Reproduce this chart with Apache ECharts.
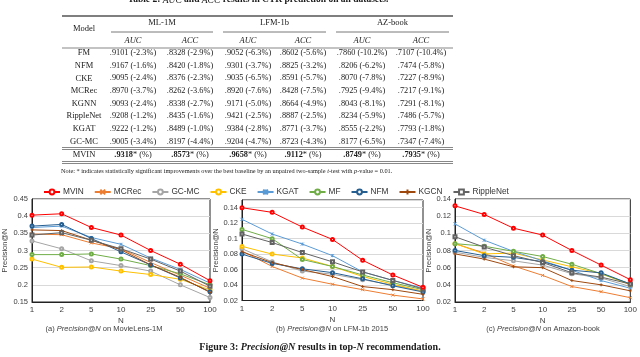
<!DOCTYPE html>
<html>
<head>
<meta charset="utf-8">
<script src="https://cdn.jsdelivr.net/npm/echarts@6/dist/echarts.min.js"></script>
<style>
  html, body { margin: 0; padding: 0; background: #fff; }
  #main { width: 640px; height: 357px; }
</style>
</head>
<body>
<div id="main"></div>
<script>
// ---- table data ----
const tableModels = ["FM", "NFM", "CKE", "MCRec", "KGNN", "RippleNet", "KGAT", "GC-MC"];
const mlAuc = [".9101 (-2.3%)", ".9167 (-1.6%)", ".9095 (-2.4%)", ".8970 (-3.7%)", ".9093 (-2.4%)", ".9208 (-1.2%)", ".9222 (-1.2%)", ".9005 (-3.4%)"];
const mlAcc = [".8328 (-2.9%)", ".8420 (-1.8%)", ".8376 (-2.3%)", ".8262 (-3.6%)", ".8338 (-2.7%)", ".8435 (-1.6%)", ".8489 (-1.0%)", ".8197 (-4.4%)"];
const lfmAuc = [".9052 (-6.3%)", ".9301 (-3.7%)", ".9035 (-6.5%)", ".8920 (-7.6%)", ".9171 (-5.0%)", ".9421 (-2.5%)", ".9384 (-2.8%)", ".9204 (-4.7%)"];
const lfmAcc = [".8602 (-5.6%)", ".8825 (-3.2%)", ".8591 (-5.7%)", ".8428 (-7.5%)", ".8664 (-4.9%)", ".8887 (-2.5%)", ".8771 (-3.7%)", ".8723 (-4.3%)"];
const azAuc = [".7860 (-10.2%)", ".8206 (-6.2%)", ".8070 (-7.8%)", ".7925 (-9.4%)", ".8043 (-8.1%)", ".8234 (-5.9%)", ".8555 (-2.2%)", ".8177 (-6.5%)"];
const azAcc = [".7107 (-10.4%)", ".7474 (-5.8%)", ".7227 (-8.9%)", ".7217 (-9.1%)", ".7291 (-8.1%)", ".7486 (-5.7%)", ".7793 (-1.8%)", ".7347 (-7.4%)"];
const mvinRow = [".9318", ".8573", ".9658", ".9112", ".8749", ".7935"];

// ---- chart data ----
const nLabels = ["1", "2", "5", "10", "25", "50", "100"];
const models = ["MVIN", "MCRec", "GC-MC", "CKE", "KGAT", "MF", "NFM", "KGCN", "RippleNet"];
const colors = ["#FF0000", "#ED7D31", "#A5A5A5", "#FFC000", "#5B9BD5", "#70AD47", "#255E91", "#9E480E", "#636363"];

// values in the order of `models`
const movielens = [
  [0.403, 0.407, 0.367, 0.345, 0.300, 0.260, 0.212],
  [0.348, 0.346, 0.322, 0.305, 0.265, 0.228, 0.190],
  [0.328, 0.305, 0.270, 0.256, 0.240, 0.200, 0.163],
  [0.275, 0.251, 0.252, 0.240, 0.230, 0.216, 0.185],
  [0.367, 0.371, 0.338, 0.318, 0.278, 0.245, 0.205],
  [0.288, 0.288, 0.290, 0.275, 0.256, 0.232, 0.200],
  [0.371, 0.376, 0.335, 0.296, 0.258, 0.220, 0.180],
  [0.360, 0.358, 0.330, 0.302, 0.258, 0.222, 0.178],
  [0.345, 0.352, 0.330, 0.305, 0.275, 0.240, 0.196]
];
const lfm = [
  [0.140, 0.134, 0.115, 0.099, 0.072, 0.053, 0.037],
  [0.084, 0.064, 0.049, 0.041, 0.034, 0.027, 0.022],
  [0.087, 0.070, 0.058, 0.054, 0.047, 0.040, 0.032],
  [0.090, 0.080, 0.075, 0.064, 0.051, 0.041, 0.032],
  [0.125, 0.106, 0.093, 0.078, 0.057, 0.046, 0.036],
  [0.112, 0.100, 0.073, 0.064, 0.053, 0.043, 0.034],
  [0.080, 0.068, 0.061, 0.056, 0.048, 0.039, 0.031],
  [0.083, 0.069, 0.060, 0.051, 0.038, 0.034, 0.028],
  [0.106, 0.095, 0.082, 0.070, 0.057, 0.046, 0.035]
];
const amazon = [
  [0.132, 0.122, 0.106, 0.098, 0.080, 0.063, 0.046],
  [0.088, 0.077, 0.062, 0.051, 0.038, 0.032, 0.025],
  [0.078, 0.072, 0.068, 0.063, 0.053, 0.048, 0.038],
  [0.088, 0.076, 0.077, 0.069, 0.061, 0.053, 0.040],
  [0.111, 0.092, 0.079, 0.068, 0.057, 0.045, 0.036],
  [0.088, 0.085, 0.079, 0.073, 0.064, 0.053, 0.041],
  [0.080, 0.074, 0.072, 0.067, 0.057, 0.054, 0.041],
  [0.076, 0.070, 0.061, 0.060, 0.045, 0.040, 0.033],
  [0.096, 0.084, 0.074, 0.066, 0.054, 0.049, 0.041]
];

const symbols = [
  "emptyCircle",
  "path://M0,0L10,10M0,10L10,0",
  "emptyCircle",
  "emptyCircle",
  "path://M0,0L10,10M0,10L10,0M5,0L5,10",
  "emptyCircle",
  "emptyCircle",
  "path://M5,0L5,10M0,5L10,5",
  "emptyRect"
];

const serif = "Liberation Serif";
const sans = "Liberation Sans";

// ---- table graphics ----
const graphics = [];
function txt(x, y, text, size, extra) {
  graphics.push({
    type: "text", x: x, y: y, silent: true,
    style: Object.assign({
      text: text, fontFamily: serif, fontSize: size, fill: "#1a1a1a",
      textAlign: "center", textVerticalAlign: "middle"
    }, extra || {})
  });
}
function rule(x1, x2, y, w) {
  graphics.push({
    type: "line", silent: true,
    shape: { x1: x1, y1: y, x2: x2, y2: y },
    style: { stroke: "#555", lineWidth: w }
  });
}

txt(258, 0, "Table 2: {i|AUC} and {i|ACC} results in CTR prediction on all datasets.", 9.5, {
  fontWeight: "bold",
  rich: { i: { fontFamily: serif, fontSize: 9.5, fontStyle: "italic", fill: "#1a1a1a" } }
});
rule(62, 453, 16, 1.3);
txt(84, 29, "Model", 8.5);
const groupNames = ["ML-1M", "LFM-1b", "AZ-book"];
const groupX = [[111, 213], [223, 326], [336, 449]];
groupNames.forEach(function (g, i) {
  txt((groupX[i][0] + groupX[i][1]) / 2, 23, g, 8.5);
  rule(groupX[i][0], groupX[i][1], 32, 0.8);
});
const colX = [133, 190, 248, 303, 362, 421];
colX.forEach(function (x, i) {
  txt(x, 41, i % 2 === 0 ? "AUC" : "ACC", 8.5, { fontStyle: "italic" });
});
rule(62, 453, 48, 0.7);
const columns = [mlAuc, mlAcc, lfmAuc, lfmAcc, azAuc, azAcc];
tableModels.forEach(function (m, r) {
  const y = 53 + r * 12.65;
  txt(84, y, m, 8.5);
  columns.forEach(function (col, c) { txt(colX[c], y, col[r], 8.3); });
});
rule(62, 453, 147.5, 0.7);
rule(62, 453, 149.5, 0.7);
txt(84, 155, "MVIN", 8.5);
mvinRow.forEach(function (v, c) {
  txt(colX[c], 155, "{b|" + v + "}{n|* (%)}", 8.3, {
    rich: {
      b: { fontFamily: serif, fontSize: 8.3, fontWeight: "bold", fill: "#1a1a1a" },
      n: { fontFamily: serif, fontSize: 8.3, fill: "#1a1a1a" }
    }
  });
});
rule(62, 453, 161.5, 0.7);
rule(62, 453, 163.5, 0.7);
txt(61, 171, "Note: * indicates statistically significant improvements over the best baseline by an unpaired two-sample {i|t}-test with {i|p}-value = 0.01.", 6.3, {
  textAlign: "left",
  rich: { i: { fontFamily: serif, fontSize: 6.3, fontStyle: "italic", fill: "#1a1a1a" } }
});

// sub captions and figure caption
const subCaps = [
  [104, "(a) {i|Precision@N} on MovieLens-1M"],
  [332, "(b) {i|Precision@N} on LFM-1b 2015"],
  [543, "(c) {i|Precision@N} on Amazon-book"]
];
subCaps.forEach(function (s) {
  txt(s[0], 329, s[1], 7.5, {
    fontFamily: sans, fill: "#404040",
    rich: { i: { fontFamily: sans, fontSize: 7.5, fontStyle: "italic", fill: "#404040" } }
  });
});
txt(320, 347, "Figure 3: {i|Precision@N} results in top-{i|N} recommendation.", 10, {
  fontWeight: "bold",
  rich: { i: { fontFamily: serif, fontSize: 10, fontStyle: "italic", fontWeight: "bold", fill: "#1a1a1a" } }
});

// ---- charts ----
const grids = [
  { left: 30, top: 199, width: 180, height: 103 },
  { left: 242, top: 200, width: 181, height: 100.5 },
  { left: 455, top: 199, width: 180, height: 103 }
];
const yRanges = [
  { min: 0.15, max: 0.45, interval: 0.05 },
  { min: 0.02, max: 0.15, interval: 0.02 },
  { min: 0.02, max: 0.14, interval: 0.02 }
];
const datasets = [movielens, lfm, amazon];

const series = [];
datasets.forEach(function (ds, k) {
  ds.forEach(function (vals, i) {
    series.push({
      type: "line", name: models[i], xAxisIndex: k, yAxisIndex: k,
      data: vals, symbol: symbols[i], symbolSize: 3,
      color: colors[i],
      lineStyle: { width: 1, color: colors[i] },
      itemStyle: { color: colors[i], borderColor: colors[i], borderWidth: 1 },
      z: i === 0 ? 5 : 2,
      animation: false
    });
  });
});

const option = {
  animation: false,
  textStyle: { fontFamily: sans },
  legend: {
    data: models, left: 38, top: 183,
    itemWidth: 16, itemHeight: 6, itemGap: 10,
    textStyle: { fontFamily: sans, fontSize: 8.3, color: "#333", padding: [0, 0, 0, -2] }
  },
  grid: grids.map(function (g) {
    return Object.assign({ show: true, borderColor: "#222", borderWidth: 1, containLabel: false }, g);
  }),
  xAxis: grids.map(function (g, k) {
    return {
      type: "category", gridIndex: k, data: nLabels, boundaryGap: false,
      name: "N", nameLocation: "middle", nameGap: 15,
      nameTextStyle: { fontFamily: sans, fontSize: 8, color: "#404040" },
      axisLine: { lineStyle: { color: "#222" } },
      axisTick: { show: false },
      axisLabel: { fontFamily: sans, fontSize: 8, color: "#404040", margin: 4, interval: 0 }
    };
  }),
  yAxis: yRanges.map(function (r, k) {
    return {
      type: "value", gridIndex: k, min: r.min, max: r.max, interval: r.interval,
      name: "Precision@N", nameLocation: "middle", nameGap: k === 0 ? 23 : 21,
      nameTextStyle: { fontFamily: sans, fontSize: 7.5, color: "#404040" },
      axisLine: { show: true, lineStyle: { color: "#222" } },
      axisTick: { show: false },
      splitLine: { lineStyle: { color: "#D9D9D9" } },
      axisLabel: {
        fontFamily: sans, fontSize: 7.5, color: "#404040", margin: 4,
        showMaxLabel: k !== 1,
        formatter: function (v) { return String(parseFloat(v.toFixed(3))); }
      }
    };
  }),
  series: series,
  graphic: graphics
};

const chart = echarts.init(document.getElementById("main"));
chart.setOption(option);
</script>
</body>
</html>
